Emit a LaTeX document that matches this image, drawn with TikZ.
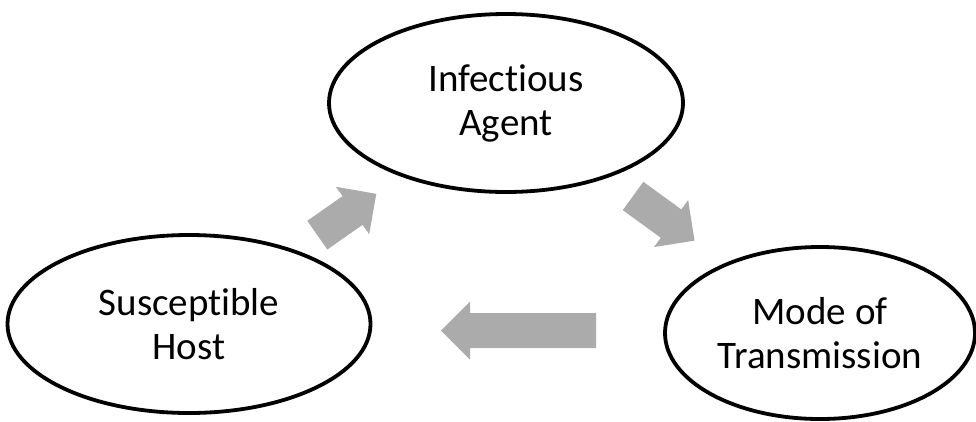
\documentclass[tikz,border=0pt]{standalone}
\usepackage{fontspec}
\setmainfont[RawFeature={-liga;-dlig;-clig}]{Carlito}
\usetikzlibrary{shapes.geometric}
\definecolor{arrowgray}{RGB}{171,171,171}
\tikzset{
  cyclenode/.style={draw=black, line width=3.8pt, ellipse, inner sep=0pt, align=center,
    font=\fontsize{39}{44}\selectfont},
  blockarrow/.style={fill=arrowgray, draw=none}
}
\newcommand{\myblockarrow}[4]{% cx, cy, angle, length
  \begin{scope}[shift={(#1,#2)}, rotate=#3]
    \fill[blockarrow] (-#4/2,-17.5) -- (#4/2-29,-17.5) -- (#4/2-29,-29) -- (#4/2,0)
      -- (#4/2-29,29) -- (#4/2-29,17.5) -- (-#4/2,17.5) -- cycle;
  \end{scope}}
\begin{document}
\begin{tikzpicture}[x=1pt, y=-1pt]
  \useasboundingbox (0,0) rectangle (976,421);
  \node[cyclenode, minimum width=354pt, minimum height=178pt] (agent) at (506,103) {Infectious\\Agent};
  \node[cyclenode, minimum width=363pt, minimum height=178pt] (host) at (189,324) {Susceptible\\Host};
  \node[cyclenode, minimum width=310pt, minimum height=172pt] (mode) at (820,333) {Mode of\\Transmission};
  \myblockarrow{346.8}{214.5}{35}{72}
  \myblockarrow{663.8}{218.3}{-36}{76}
  \myblockarrow{518.5}{330.5}{180}{155}
\end{tikzpicture}
\end{document}
